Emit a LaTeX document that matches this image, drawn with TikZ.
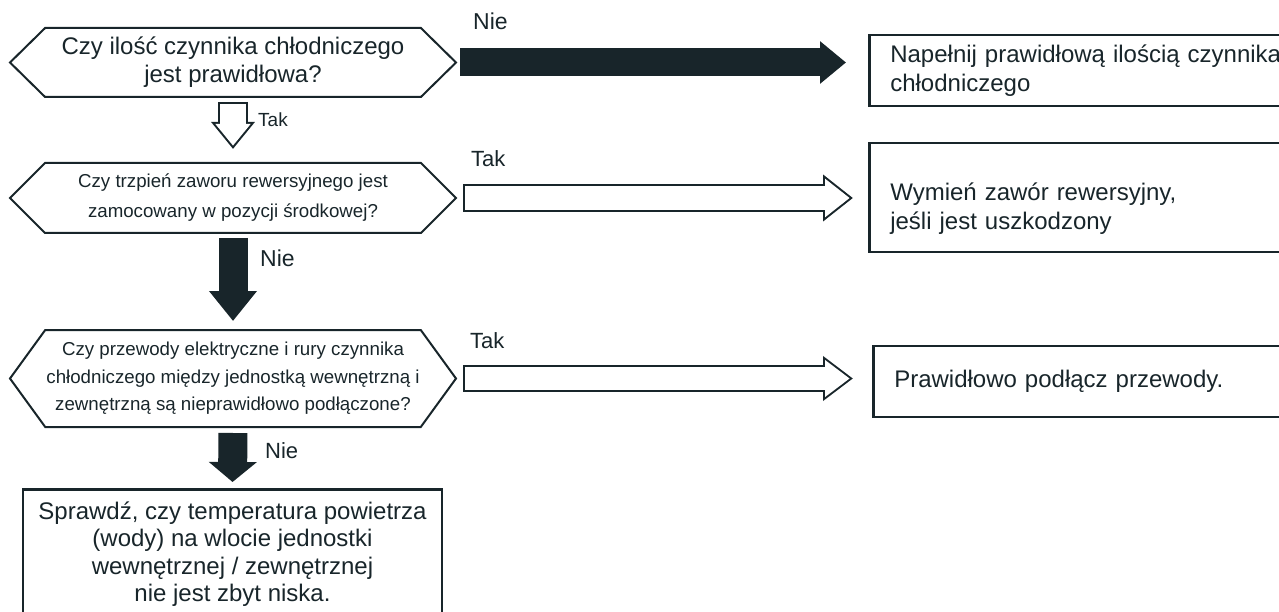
\documentclass[tikz,border=0pt]{standalone}
\usepackage{fontspec}
\setmainfont{Liberation Sans}
\usetikzlibrary{shapes.symbols,arrows.meta}
\definecolor{ink}{HTML}{18252A}

\begin{document}
\begin{tikzpicture}[x=1pt, y=-1pt, every node/.style={text=ink, align=center},
  question/.style={draw=ink, line width=2pt, shape=signal, signal to=west and east, inner sep=0pt, minimum width=446pt},
  answer/.style={draw=ink, line width=2.6pt, anchor=west, align=left, text width=400pt, inner xsep=21pt, inner ysep=0pt, font=\fontsize{24}{29}\selectfont},
  tag/.style={anchor=base west, inner sep=0pt, font=\fontsize{22}{22}\selectfont},
  full/.style={draw=ink, line width=#1},
  hollow/.style={draw=white, line width=#1}]
\useasboundingbox (0,0) rectangle (1279,612);

\node (a) [question, minimum height=69pt, signal pointer angle=89, font=\fontsize{24}{28}\selectfont] at (233,62.5)
  {Czy ilość czynnika chłodniczego\\jest prawidłowa?};
\node (b) [answer, minimum height=71pt] at (868,70.5) {Napełnij prawidłową ilością czynnika\\chłodniczego};
\node (c) [question, minimum height=70pt, signal pointer angle=90, font=\fontsize{18.7}{30}\selectfont] at (233,198)
  {Czy trzpień zaworu rewersyjnego jest\\zamocowany w pozycji środkowej?};
\node (d) [answer, minimum height=109pt] at (868,197.5) {\rule{0pt}{40pt}Wymień zawór rewersyjny,\\jeśli jest uszkodzony};
\node (e) [question, minimum height=97pt, signal pointer angle=108, font=\fontsize{18.7}{27.5}\selectfont] at (233,378.5)
  {Czy przewody elektryczne i rury czynnika\\chłodniczego między jednostką wewnętrzną i\\zewnętrzną są nieprawidłowo podłączone?};
\node (f) [answer, minimum height=71pt] at (872,381.5) {Prawidłowo podłącz przewody.};
\node (g) [draw=ink, line width=2.6pt, anchor=north, minimum width=419pt, minimum height=130pt, font=\fontsize{24}{27.5}\selectfont] at (232.5,488)
  {Sprawdź, czy temperatura powietrza\\(wody) na wlocie jednostki\\wewnętrznej / zewnętrznej\\nie jest zbyt niska.};

\node (nie1) [tag, font=\fontsize{23}{23}\selectfont] at (473,30) {Nie};
\node (tak1) [tag, font=\fontsize{19}{19}\selectfont] at (258,127) {Tak};
\node (tak2) [tag] at (471,167) {Tak};
\node (nie2) [tag, font=\fontsize{23}{23}\selectfont] at (260,267) {Nie};
\node (tak3) [tag] at (470,348) {Tak};
\node (nie3) [tag] at (265,458) {Nie};

% Nie -> refill
\draw[full=28pt, -{Triangle[length=26pt,width=41pt]}, shorten <=3pt, shorten >=22pt] (a.east) -- (a.east -| b.west);
% Tak -> next question
\draw[full=30pt, -{Triangle[length=27pt,width=42pt]}, shorten <=4pt, shorten >=13pt] (a.south) -- (c.north);
\draw[hollow=26pt, -{Triangle[length=21.7pt,width=33.8pt]}, shorten <=6pt, shorten >=16.3pt] (a.south) -- (c.north);
% Tak -> valve
\draw[full=28pt, -{Triangle[length=30pt,width=45pt]}, shorten <=6pt, shorten >=15pt] (c.east) -- (c.east -| d.west);
\draw[hollow=24pt, -{Triangle[length=24.7pt,width=37pt]}, shorten <=8pt, shorten >=18.3pt] (c.east) -- (c.east -| d.west);
% Nie -> wiring
\draw[full=29pt, -{Triangle[length=30pt,width=46pt]}, shorten <=4pt, shorten >=8pt] (c.south) -- (e.north);
% Tak -> connect
\draw[full=27pt, -{Triangle[length=30pt,width=43pt]}, shorten <=6pt, shorten >=19pt] (e.east) -- (e.east -| f.west);
\draw[hollow=23pt, -{Triangle[length=24.7pt,width=35.4pt]}, shorten <=8pt, shorten >=22.3pt] (e.east) -- (e.east -| f.west);
% Nie -> temperature
\draw[full=29pt, -{Triangle[length=20pt,width=47pt]}, shorten <=5pt, shorten >=6pt] (e.south) -- (g.north);
\end{tikzpicture}
\end{document}
